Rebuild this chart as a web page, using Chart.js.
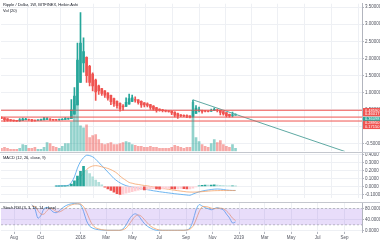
<!DOCTYPE html>
<html><head><meta charset="utf-8">
<script src="https://cdn.jsdelivr.net/npm/chart.js@4/dist/chart.umd.min.js"></script>
<style>
html,body{margin:0;padding:0;background:#fff;}
#wrap{position:relative;width:380px;height:240px;overflow:hidden;font-family:"Liberation Sans",Arial,sans-serif;}
.pane{position:absolute;left:0;width:380px;}
.lbl{position:absolute;left:3px;font-size:4px;line-height:5px;color:#131722;white-space:nowrap;}
.sep{position:absolute;left:0;width:380px;height:1px;background:#c4c7ce;}
</style></head>
<body><div id="wrap">
<div class="pane" style="top:0;height:155px"><canvas id="cMain" width="380" height="155"></canvas></div>
<div class="pane" style="top:150px;height:52px"><canvas id="cMacd" width="380" height="52"></canvas></div>
<div class="pane" style="top:199px;height:41px"><canvas id="cStoch" width="380" height="41"></canvas></div>
<div class="sep" style="top:152px"></div>
<div class="sep" style="top:202px"></div>
<div class="lbl" style="top:2px">Ripple / Dollar, 1W, BITFINEX, Heikin Ashi</div>
<div class="lbl" style="top:8px">Vol (20)</div>
<div class="lbl" style="top:155px">MACD (12, 26, close, 9)</div>
<div class="lbl" style="top:205px">Stoch RSI (3, 3, 14, 14, close)</div>
</div>
<script>
// ---- data (weekly, week index 0 = week of 2018-01-01) ----
const firstWeek = -26; // week of 2017-07-03
const candleOpen  = [.27,.26,.235,.21,.2,.19,.18,.19,.21,.215,.215,.2,.195,.196,.2,.22,.23,.22,.21,.208,.209,.215,.23,.24,.37,.64,1.3,1.87,2.03,1.77,1.54,1.37,1.2,1.12,1.05,.99,.92,.83,.75,.69,.61,.6,.66,.745,.8,.79,.75,.7,.67,.65,.61,.565,.52,.5,.485,.47,.46,.435,.39,.35,.34,.33,.32,.305,.39,.47,.485,.47,.465,.46,.47,.49,.485,.45,.415,.37,.335,.34];
const candleHigh  = [.29,.27,.24,.21,.2,.19,.24,.26,.25,.23,.22,.2,.21,.23,.28,.27,.24,.22,.22,.23,.24,.27,.26,.8,1.15,2.45,3.34,2.6,2.05,1.8,1.58,1.4,1.22,1.13,1.06,1.0,.93,.84,.76,.7,.65,.85,.96,.93,.88,.8,.76,.71,.7,.66,.62,.57,.53,.51,.49,.475,.465,.44,.4,.36,.35,.35,.325,.78,.62,.58,.49,.48,.47,.52,.56,.52,.5,.45,.42,.375,.43,.38];
const candleLow   = [.24,.16,.17,.17,.16,.16,.16,.18,.2,.19,.16,.17,.18,.19,.2,.21,.19,.19,.19,.19,.2,.21,.22,.24,.37,.64,1.3,1.6,1.3,1.2,1.05,.77,.95,.92,.86,.78,.65,.6,.55,.46,.49,.6,.66,.74,.72,.66,.57,.58,.58,.51,.49,.43,.46,.44,.44,.43,.36,.29,.25,.3,.3,.27,.26,.28,.39,.44,.4,.44,.44,.45,.47,.44,.35,.34,.29,.28,.29,.34];
const candleClose = [.25,.21,.19,.185,.18,.175,.205,.225,.225,.21,.19,.19,.197,.21,.235,.235,.215,.205,.206,.21,.22,.24,.245,.5,.9,1.95,2.45,2.2,1.5,1.3,1.2,1.02,1.05,.98,.93,.84,.74,.67,.62,.53,.58,.72,.83,.85,.78,.71,.64,.64,.63,.57,.52,.48,.485,.47,.46,.45,.41,.34,.31,.33,.32,.31,.29,.48,.55,.5,.45,.46,.455,.48,.51,.48,.42,.38,.33,.32,.35,.36];
const volume      = [6,8,6,4,4,4,6,14,12,6,6,8,4,4,8,18,16,10,8,6,10,16,16,60,96,104,52,48,54,28,32,34,24,16,14,16,18,14,14,16,18,20,18,14,12,10,10,8,8,10,8,8,6,6,6,6,8,12,10,8,6,8,8,100,28,20,14,10,8,16,24,18,22,14,10,8,14,6];

const macdFirst = -8;
const macdLine   = [.005,.006,.008,.01,.015,.05,.12,.23,.31,.36,.39,.385,.37,.34,.3,.26,.22,.18,.14,.1,.07,.045,.025,.01,0,-.008,-.014,-.02,-.028,-.034,-.04,-.047,-.054,-.06,-.066,-.071,-.076,-.081,-.086,-.091,-.095,-.099,-.103,-.107,-.11,-.095,-.08,-.068,-.058,-.05,-.044,-.038,-.034,-.032,-.034,-.038,-.044,-.048,-.05,-.05];
const signalFirst = -1;
const signalLine = [.07,.12,.17,.21,.24,.255,.26,.255,.245,.235,.225,.21,.19,.165,.13,.1,.075,.05,.04,.03,.025,.018,.012,.008,0,-.006,-.012,-.018,-.025,-.03,-.036,-.042,-.048,-.053,-.058,-.063,-.068,-.07,-.071,-.07,-.068,-.065,-.062,-.058,-.055,-.053,-.052,-.051,-.051,-.051,-.051,-.051,-.051];
const histFirst = -8;
const histogram  = [.002,.002,.003,.003,.006,.03,.07,.13,.19,.25,.2,.16,.12,.08,.05,.02,-.01,-.03,-.05,-.07,-.09,-.1,-.095,-.085,-.075,-.065,-.055,-.045,-.04,-.042,-.038,-.03,-.028,-.03,-.034,-.03,-.026,-.024,-.028,-.032,-.03,-.026,-.028,-.032,-.03,-.02,-.005,.008,.014,.018,.016,.018,.02,.017,.014,.012,.008,.006,.006,.004];

const stochFirst = -16;
const stochK = [95,80,45,55,80,85,78,68,65,72,82,90,95,98,99,98,95,70,35,15,8,4,2,1,0,0,0,0,0,0,5,20,40,55,61,55,40,25,15,8,3,0,0,0,0,0,0,0,0,0,0,1,8,35,75,95,90,84,80,76,80,84,80,76,60,46,27,31];
const stochD = [90,88,73,60,60,73,81,77,70,68,73,81,89,94,97,98,97,88,67,40,19,9,5,2,1,0,0,0,0,0,2,8,22,38,52,57,52,40,27,16,9,4,1,0,0,0,0,0,0,0,0,1,4,15,39,68,87,88,86,82,80,82,82,80,72,60,45,36];

const priceTicks = [-0.5,0,0.5,1,1.5,2,2.5,3,3.5];
const macdTicks = [-0.1,0,0.1,0.2,0.3,0.4];
const stochTicks = [0,40,80];
const bandTop = 80, bandBottom = 20;
const trendLine = [[37,0.79],[87,-0.72]];
const levelLines = [0.486,0.286,0.171];
const priceTags = [
  {v:0.486, t:'0.48590', c:'#ef5350'},
  {v:0.371, t:'0.46017', c:'#ef5350'},
  {v:0.229, t:'0.36098', c:'#26a69a'},
  {v:0.114, t:'0.28950', c:'#ef5350'},
  {v:0.0,   t:'0.17150', c:'#ef5350'}
];
const tickDates = ['2017-08-01','2017-10-01','2018-01-01','2018-03-01','2018-05-01','2018-07-01','2018-09-01','2018-11-01','2019-01-01','2019-03-01','2019-05-01','2019-07-01','2019-09-01'];
const tickLabels = ['Aug','Oct','2018','Mar','May','Jul','Sep','Nov','2019','Mar','May','Jul','Sep'];

// ---- helpers ----
const WEEK0 = Date.UTC(2018,0,1);
const tickWeeks = tickDates.map(d => (Date.parse(d+'T00:00:00Z') - WEEK0) / (7*864e5));
const X_MIN = -26.15, X_MAX = 92.6;
const UP = '#26a69a', DOWN = '#ef5350';
const GRID = '#eef0f4';
const FONT = {family:'"Liberation Sans", Arial, sans-serif', size:4.5};
const wk = (first,i) => first + i;
const up = candleClose.map((c,i)=> c >= candleOpen[i]);

function xScale(show){
  return {
    type:'linear', min:X_MIN, max:X_MAX, offset:false,
    afterBuildTicks: s => { s.ticks = tickWeeks.map(v=>({value:v})); },
    ticks:{display:show, autoSkip:false, maxRotation:0, font:FONT, color:'#50535e', padding:1,
      callback:(v,i)=>tickLabels[i]},
    grid:{color:GRID, lineWidth:1, drawTicks:show, tickLength:2, tickColor:'#b2b5be'},
    border:{display:false},
    afterFit: s => { s.height = show ? 8 : 0; }
  };
}
function yScale(min,max,ticks,fmt){
  return {
    position:'right', min, max,
    afterBuildTicks: s => { s.ticks = ticks.map(v=>({value:v})); },
    ticks:{font:FONT, color:'#50535e', padding:1, callback:v=>fmt(v)},
    grid:{color:GRID, lineWidth:1, drawTicks:true, tickLength:2, tickColor:'#b2b5be'},
    border:{display:true, color:'#b2b5be'},
    afterFit: s => { s.width = 18; }
  };
}
Chart.defaults.animation = false;
Chart.defaults.responsive = false;
Chart.defaults.plugins.legend.display = false;
Chart.defaults.plugins.tooltip.enabled = false;

// ---- main price chart ----
const tagPlugin = {
  id:'tags',
  afterDraw(chart){
    const y = chart.scales.y, ctx = chart.ctx, ca = chart.chartArea;
    ctx.save();
    ctx.font = '4px "Liberation Sans", Arial, sans-serif';
    ctx.textBaseline = 'middle';
    priceTags.forEach(p=>{
      const py = y.getPixelForValue(p.v);
      ctx.fillStyle = p.c;
      ctx.fillRect(ca.right+1, py-2.2, 17, 4.4);
      ctx.fillStyle = '#fff';
      ctx.fillText(p.t, ca.right+3, py+0.2);
    });
    ctx.restore();
  }
};
const candleX = candleOpen.map((_,i)=>wk(firstWeek,i));
new Chart(document.getElementById('cMain'), {
  type:'bar',
  data:{datasets:[
    {type:'bar', yAxisID:'yV', grouped:false, barThickness:2,
     data:volume.map((v,i)=>({x:candleX[i], y:v})),
     backgroundColor:up.map(u=> u ? 'rgba(38,166,154,0.5)' : 'rgba(239,83,80,0.5)')},
    ...levelLines.map(l=>({type:'line', yAxisID:'y', data:[{x:X_MIN,y:l},{x:X_MAX,y:l}],
      borderColor:'#ef5350', borderWidth:1, pointRadius:0})),
    {type:'line', yAxisID:'y', data:trendLine.map(p=>({x:p[0],y:p[1]})),
     borderColor:'#5fa9a3', borderWidth:1, pointRadius:0},
    {type:'bar', yAxisID:'y', grouped:false, barThickness:1,
     data:candleX.map((x,i)=>({x, y:[candleLow[i], candleHigh[i]]})),
     backgroundColor:up.map(u=> u ? UP : DOWN)},
    {type:'bar', yAxisID:'y', grouped:false, barThickness:2,
     data:candleX.map((x,i)=>({x, y:[candleOpen[i], candleClose[i]]})),
     backgroundColor:up.map(u=> u ? UP : DOWN)}
  ]},
  options:{
    layout:{padding:{top:1,bottom:3,left:1,right:0}},
    scales:{
      x:xScale(false),
      y:yScale(-0.714,3.6,priceTicks,v=>v.toFixed(5)),
      yV:{display:false, min:0, max:302}
    }
  },
  plugins:[tagPlugin]
});

// ---- MACD ----
const macdUp = histogram.map((h,i)=>{
  const prev = i>0 ? histogram[i-1] : 0;
  if (h >= 0) return h >= prev ? '#26a69a' : '#b2dfdb';
  return h <= prev ? '#ef5350' : '#ffcdd2';
});
new Chart(document.getElementById('cMacd'), {
  type:'bar',
  data:{datasets:[
    {type:'bar', grouped:false, barThickness:2,
     data:histogram.map((v,i)=>({x:wk(histFirst,i), y:v})), backgroundColor:macdUp},
    {type:'line', data:signalLine.map((v,i)=>({x:wk(signalFirst,i), y:v})),
     borderColor:'#f5a36a', borderWidth:0.8, pointRadius:0, tension:0.3},
    {type:'line', data:macdLine.map((v,i)=>({x:wk(macdFirst,i), y:v})),
     borderColor:'#4aa3ee', borderWidth:0.8, pointRadius:0, tension:0.3}
  ]},
  options:{
    layout:{padding:{top:3,bottom:0,left:1,right:0}},
    scales:{ x:xScale(false), y:yScale(-0.148,0.409,macdTicks,v=>v.toFixed(4)) }
  }
});

// ---- Stoch RSI ----
new Chart(document.getElementById('cStoch'), {
  type:'line',
  data:{datasets:[
    {data:[{x:X_MIN,y:bandTop},{x:X_MAX,y:bandTop}], borderColor:'#9598a1', borderWidth:0.6,
     borderDash:[2,2], pointRadius:0, fill:false},
    {data:[{x:X_MIN,y:bandBottom},{x:X_MAX,y:bandBottom}], borderColor:'#9598a1', borderWidth:0.6,
     borderDash:[2,2], pointRadius:0, fill:'-1', backgroundColor:'rgba(149,100,230,0.22)'},
    {data:stochD.map((v,i)=>({x:wk(stochFirst,i), y:v})), borderColor:'#f5a36a', borderWidth:0.8, pointRadius:0, tension:0.3},
    {data:stochK.map((v,i)=>({x:wk(stochFirst,i), y:v})), borderColor:'#4aa3ee', borderWidth:0.8, pointRadius:0, tension:0.3}
  ]},
  options:{
    layout:{padding:{top:3,bottom:0,left:1,right:0}},
    scales:{ x:xScale(true), y:yScale(-6.4,102.2,stochTicks,v=>v.toFixed(4)) }
  }
});
</script>
</body></html>
